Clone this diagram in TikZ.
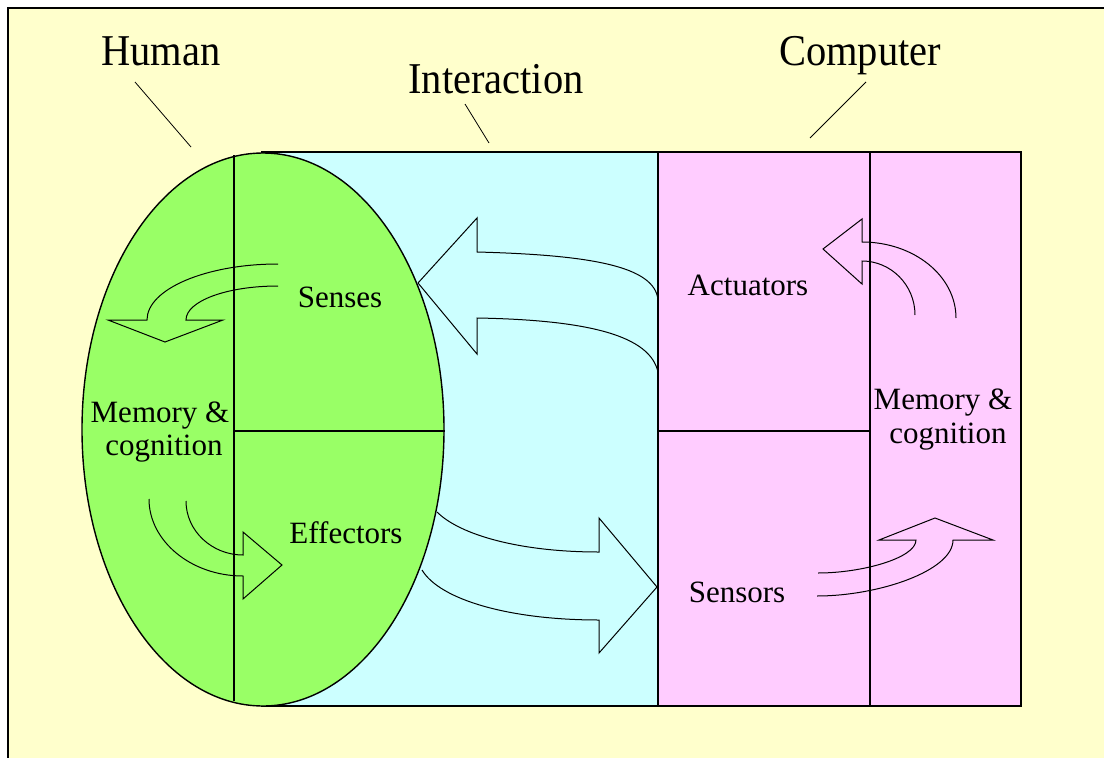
\documentclass[tikz,border=0pt]{standalone}
\usepackage{fontspec}
\setmainfont{Liberation Serif}
\definecolor{bgyellow}{HTML}{FFFFCC}
\definecolor{hgreen}{HTML}{99FF66}
\definecolor{icyan}{HTML}{CCFFFF}
\definecolor{cpink}{HTML}{FFCCFF}
\tikzset{
  box/.style={draw=black, line width=1.4pt},
  divider/.style={draw=black, line width=1.2pt},
  blockarrow/.style={draw=black, line width=1pt, line join=miter},
  pointer/.style={draw=black, line width=0.8pt},
  lbl/.style={inner sep=0pt, anchor=base, font=\fontsize{31}{36}\selectfont},
  title/.style={inner sep=0pt, anchor=base, font=\fontsize{44}{50}\selectfont},
}
\begin{document}
\begin{tikzpicture}[x=1pt, y=-1pt]
\useasboundingbox (0,0) rectangle (1104,758);
% background
\fill[white] (0,0) rectangle (1104,758);
\fill[bgyellow] (8,8) rectangle (1104,758);
\draw[line width=1.5pt] (8,758) -- (8,8) -- (1104,8);
% interaction and computer regions
\draw[box, fill=icyan] (262,152) rectangle (658,706);
\draw[box, fill=cpink] (658,152) rectangle (1021,706);
\draw[divider] (870,152) -- (870,706);
\draw[divider] (658,431) -- (870,431);
% human ellipse
\draw[box, fill=hgreen] (263,429.5) ellipse [x radius=181, y radius=276.5];
\draw[divider] (234,155) -- (234,701);
\draw[divider] (234,431) -- (445,431);
% arrows inside the human
\draw[blockarrow] (278,264) .. controls (206,264) and (147,289) .. (147,320)
  -- (108,320) -- (165,342) -- (223,320) -- (186,320)
  .. controls (186,301) and (227,286) .. (278,286);
\draw[blockarrow] (149,499) .. controls (149,541) and (191,576) .. (243,576)
  -- (243,599) -- (282,565) -- (243,532) -- (243,555)
  .. controls (212,555) and (186,531) .. (186,501);
% arrows in the interaction area
\draw[blockarrow] (658,300) .. controls (655,266) and (590,255) .. (477,252)
  -- (477,218) -- (418,283) -- (477,354) -- (477,318)
  .. controls (590,320) and (650,336) .. (658,372);
\draw[blockarrow] (437,512) .. controls (460,535) and (520,552) .. (599,552)
  -- (599,518) -- (657,587) -- (599,653) -- (599,620)
  .. controls (510,620) and (440,600) .. (422,570);
% arrows inside the computer
\draw[blockarrow] (915,315) .. controls (915,285) and (891,261) .. (862,261)
  -- (862,284) -- (823,249) -- (862,219) -- (862,242)
  .. controls (914,242) and (956,276) .. (956,318);
\draw[blockarrow] (818,573) .. controls (862,573) and (916,558) .. (916,540)
  -- (879,540) -- (935,518) -- (993,540) -- (953,540)
  .. controls (953,571) and (878,596) .. (817,596);
% labels
\node[lbl] (senses) at (340,307) {Senses};
\node[lbl] (memh1) at (160,422) {Memory \&};
\node[lbl] (memh2) at (164,455) {cognition};
\node[lbl] (effectors) at (346,543) {Effectors};
\node[lbl] (actuators) at (748,295) {Actuators};
\node[lbl] (sensors) at (737,602) {Sensors};
\node[lbl] (memc1) at (943,409) {Memory \&};
\node[lbl] (memc2) at (948,443) {cognition};
% titles and pointers
\node[title] (human) at (161,65) {\scalebox{0.92}[1]{Human}};
\node[title] (interaction) at (496,93) {\scalebox{0.92}[1]{Interaction}};
\node[title] (computer) at (860,65) {\scalebox{0.92}[1]{Computer}};
\coordinate (hs) at (135,82);
\coordinate (he) at (191,147);
\coordinate (is) at (465,104);
\coordinate (ie) at (489,143);
\coordinate (cs) at (866,82);
\coordinate (ce) at (810,138);
\draw[pointer] (hs) -- (he);
\draw[pointer] (is) -- (ie);
\draw[pointer] (cs) -- (ce);
\end{tikzpicture}
\end{document}
